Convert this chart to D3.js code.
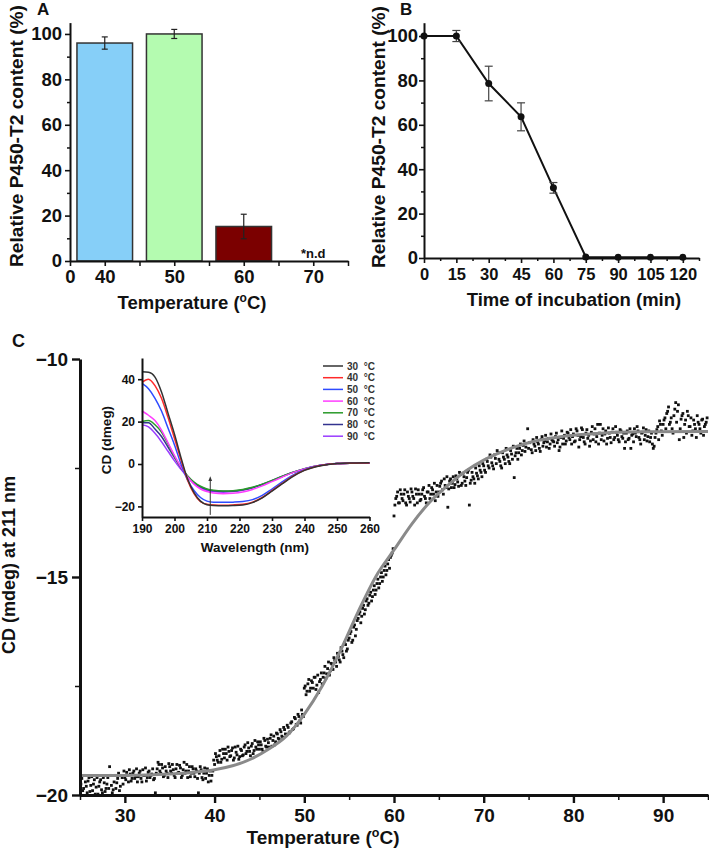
<!DOCTYPE html>
<html><head><meta charset="utf-8">
<script src="https://cdn.jsdelivr.net/npm/d3@7"></script>
<style>
body{margin:0;background:#fff;}
svg{display:block;}
</style></head><body>
<svg id="chart" width="709" height="850"></svg>
<script>
// ---------- Panel A data ----------
const tempCats = ["40","50","60","70"];
const contentA = [96, 100, 15.2, null];
const errA = [2.7, 2.0, 5.4, null];
const colorsA = ["#86cff8","#b4fbb0","#7b0000", null];
// ---------- Panel B data ----------
const timeB = [0,15,30,45,60,75,90,105,120];
const contentB = [100,100,78.6,63.6,31.6,0.5,0.3,0.3,0.3];
const errB = [0,2.5,7.8,6.3,2.4,0,0,0,0];
// ---------- Panel C inset data (CD spectra) ----------
const wavelengths = [190,192,194,196,198,200,202,204,206,208,210,212,215,218,221,224,227,230,233,236,240,245,250,255,260];
const spec30 = [43.5,43.3,41,34,24,14,3,-7,-13.5,-17.5,-19.2,-19.6,-19.7,-19.6,-19.3,-18.2,-16,-12.8,-9.5,-6.3,-3,-0.8,0.2,0.5,0.6];
const spec40 = [38.5,40,37,31,22,12,2,-7.5,-14,-17.8,-19,-19.3,-19.4,-19.3,-19,-18,-15.8,-12.6,-9.3,-6.1,-2.9,-0.7,0.2,0.4,0.5];
const spec50 = [38,35.5,31,25,17,9,0,-7.5,-12.5,-15.8,-17.5,-18,-18.1,-18,-17.7,-16.8,-14.8,-11.8,-8.6,-5.6,-2.7,-0.6,0.2,0.4,0.5];
const spec60 = [25,23,20.5,16,10,4,-1.5,-6,-9.5,-11.8,-13,-13.7,-14,-13.8,-13.2,-12,-10.3,-8.3,-6.3,-4.3,-2.3,-0.6,0.2,0.4,0.5];
const spec70 = [20,20.5,18.5,15,9.5,3.5,-1.5,-5.5,-8.5,-10.5,-11.8,-12.4,-12.7,-12.6,-12,-11,-9.5,-7.7,-5.9,-4.1,-2.2,-0.6,0.2,0.4,0.5];
const spec80 = [19.5,19.5,16.5,13,8,3,-1.8,-5.8,-8.8,-10.8,-12,-12.6,-12.9,-12.8,-12.2,-11.2,-9.7,-7.9,-6,-4.2,-2.3,-0.6,0.2,0.4,0.5];
const spec90 = [18.5,17.5,14.5,10.5,6,1.5,-2.5,-6.3,-9.3,-11.3,-12.5,-13,-13.3,-13,-12.4,-11.2,-9.6,-7.8,-5.9,-4.1,-2.2,-0.6,0.2,0.4,0.5];
const specLabels = ["30  °C","40  °C","50  °C","60  °C","70  °C","80  °C","90  °C"];
const specColors = ["#333333","#ff2a2a","#2e4bff","#ff3dff","#2a9a2a","#33338f","#9a3cff"];
// ---------- Panel C melting data (two interleaved scans) ----------
const meltData = [
[25.2,-19.62],[25.4,-19.85],[25.6,-19.7],[25.8,-19.95],[26.0,-19.6],[26.2,-19.78],[26.4,-19.9],[26.6,-19.65],[26.8,-19.82],[27.0,-19.98],[27.2,-19.7],[27.4,-19.88],[27.6,-19.6],[27.8,-19.92],[28.0,-19.75],[28.2,-19.85],[28.3,-19.35],[28.4,-19.55],[28.6,-19.95],[28.8,-19.7],[29.0,-19.85],[29.2,-19.62],[29.4,-19.9],[29.6,-19.55],[29.8,-19.75],
[30.0,-19.6],[30.2,-19.48],[30.4,-19.7],[30.6,-19.52],[30.8,-19.62],[31.0,-19.45],[31.2,-19.58],[31.4,-19.7],[31.6,-19.5],[31.8,-19.62],[32.0,-19.42],[32.2,-19.55],[32.4,-19.68],[32.6,-19.48],[32.8,-19.6],[33.0,-19.52],[33.2,-19.65],[33.4,-19.95],[33.6,-19.4],[33.8,-19.3],[34.0,-19.5],[34.2,-19.38],[34.4,-19.55],[34.6,-19.45],[34.8,-19.6],
[35.0,-19.35],[35.2,-19.5],[35.4,-19.42],[35.6,-19.6],[35.8,-19.3],[36.0,-19.48],[36.2,-19.38],[36.4,-19.55],[36.6,-19.25],[36.8,-19.45],[37.0,-19.6],[37.2,-19.35],[37.4,-19.5],[37.6,-19.4],[37.8,-19.58],[38.0,-19.45],[38.2,-19.95],[38.4,-19.35],[38.6,-19.6],[38.8,-19.5],[39.0,-19.62],[39.2,-19.4],[39.4,-19.55],[39.6,-19.68],[39.8,-19.45],
[40.0,-19.3],[40.2,-19.12],[40.4,-19.25],[40.6,-18.98],[40.8,-19.18],[41.0,-19.05],[41.2,-18.95],[41.4,-19.2],[41.6,-19.0],[41.8,-19.1],[42.0,-18.92],[42.2,-19.15],[42.4,-19.02],[42.6,-18.88],[42.8,-19.12],[43.0,-18.98],[43.2,-19.08],[43.4,-18.85],[43.6,-19.0],[43.8,-18.92],[44.0,-19.1],[44.2,-18.82],[44.4,-18.98],[44.6,-18.9],[44.8,-18.78],
[45.0,-18.95],[45.2,-18.85],[45.4,-19.0],[45.6,-18.75],[45.8,-18.9],[46.0,-18.8],[46.2,-18.7],[46.4,-18.88],[46.6,-18.65],[46.8,-18.78],[47.0,-18.6],[47.2,-18.72],[47.4,-18.55],[47.6,-18.68],[47.8,-18.5],
[48.0,-18.62],[48.2,-18.45],[48.4,-18.55],[48.6,-18.32],[48.8,-18.48],[49.0,-18.25],[49.2,-18.4],[49.4,-18.2],[49.6,-18.35],[49.8,-18.15],
[50.0,-17.55],[50.2,-17.7],[50.4,-17.45],[50.6,-17.62],[50.8,-17.38],[51.0,-17.55],[51.2,-17.3],[51.4,-17.48],[51.6,-17.65],[51.8,-17.35],
[52.0,-17.45],[52.2,-17.2],[52.4,-17.32],[52.6,-17.1],[52.8,-17.25],[53.0,-16.98],[53.2,-17.12],[53.4,-16.9],[53.6,-17.05],[53.8,-16.82],[54.0,-16.95],[54.2,-16.7],[54.4,-16.85],[54.6,-16.55],[54.8,-16.65],
[55.0,-16.4],[55.2,-16.25],[55.4,-16.45],[55.6,-16.1],[55.8,-16.2],[56.0,-15.95],[56.2,-15.8],[56.4,-15.9],[56.6,-15.65],[56.8,-15.75],
[57.0,-15.5],[57.2,-15.6],[57.4,-15.35],[57.6,-15.45],[57.8,-15.2],[58.0,-15.3],[58.2,-15.05],[58.4,-15.15],[58.6,-14.9],[58.8,-15.0],[59.0,-14.75],[59.2,-14.85],[59.4,-14.6],[59.6,-14.55],[59.8,-14.45],
[60.0,-13.6],[60.2,-13.2],[60.4,-13.05],[60.6,-13.3],[60.8,-13.1],[61.0,-13.25],[61.2,-13.0],[61.4,-13.35],[61.6,-13.15],[61.8,-13.28],[62.0,-13.05],[62.2,-13.2],[62.4,-12.98],[62.6,-13.3],[62.8,-13.1],[63.0,-13.22],[63.2,-13.0],[63.4,-13.15],[63.6,-13.3],[63.8,-13.05],[64.0,-13.2],[64.2,-12.95],[64.4,-13.1],[64.6,-13.25],[64.8,-12.9],
[65.0,-13.05],[65.2,-12.85],[65.4,-13.0],[65.6,-12.75],[65.8,-12.95],[66.0,-13.4],[66.2,-12.8],[66.4,-12.95],[66.6,-12.7],[66.8,-12.88],[67.0,-12.75],[67.2,-12.92],[67.4,-12.65],[67.6,-12.85],[67.8,-12.7],[68.0,-12.9],[68.2,-12.6],[68.4,-13.35],[68.6,-12.78],[68.8,-12.7],[69.0,-12.85],[69.2,-12.62],[69.4,-12.75],[69.6,-12.55],[69.8,-12.7],
[70.0,-12.45],[70.2,-12.6],[70.4,-12.35],[70.6,-12.5],[70.8,-12.25],[71.0,-12.45],[71.2,-12.2],[71.4,-12.4],[71.6,-12.15],[71.8,-12.35],[72.0,-12.5],[72.2,-12.25],[72.4,-12.4],[72.6,-12.2],[72.8,-12.35],[73.0,-12.1],[73.2,-12.3],[73.4,-12.72],[73.6,-12.15],[73.8,-12.3],
[74.0,-12.05],[74.2,-12.2],[74.4,-11.98],[74.6,-12.12],[74.9,-11.6],[75.0,-12.05],[75.4,-12.15],[75.6,-11.95],[75.8,-12.1],[76.0,-11.9],[76.2,-12.05],[76.4,-11.85],[76.6,-12.0],[76.8,-11.88],[77.0,-12.02],[77.2,-11.82],[77.4,-11.95],[77.6,-11.85],[77.8,-11.9],[78.0,-11.78],[78.2,-11.92],[78.4,-12.1],[78.6,-11.8],[78.8,-11.95],[79.0,-11.75],[79.2,-11.88],[79.4,-11.7],[79.6,-11.85],[79.8,-11.95],
[80.0,-11.72],[80.2,-11.88],[80.4,-11.65],[80.6,-12.02],[80.8,-11.78],[81.0,-11.62],[81.2,-11.9],[81.4,-11.7],[81.6,-11.82],[81.8,-12.0],[82.0,-11.68],[82.2,-11.85],[82.4,-11.6],[82.6,-11.78],[82.8,-11.95],[83.0,-11.5],[83.2,-11.75],[83.4,-11.88],[83.6,-11.65],[83.8,-11.82],[84.0,-11.7],[84.2,-11.92],[84.4,-11.6],[84.6,-11.8],[84.8,-11.68],[85.0,-11.85],[85.2,-11.62],[85.4,-11.78],[85.6,-11.7],[85.8,-11.9],
[86.0,-11.65],[86.2,-11.82],[86.4,-12.05],[86.6,-11.72],[86.8,-11.6],[87.0,-11.78],[87.2,-11.65],[87.4,-11.85],[87.6,-11.7],[87.8,-11.58],[88.0,-11.75],[88.2,-11.88],[88.4,-11.65],[88.6,-11.8],[88.8,-11.95],[89.0,-12.0],[89.2,-11.7],[89.4,-11.55],[89.6,-11.42],[89.8,-11.65],[90.0,-11.5],[90.2,-11.35],[90.4,-11.25],[90.6,-11.1],[90.8,-11.45],[91.0,-11.6],[91.2,-11.3],[91.4,-11.0],[91.6,-11.2],[91.8,-11.85],[92.0,-11.38],[92.2,-11.25],[92.4,-11.5],[92.6,-11.7],[92.8,-11.3],[93.0,-11.55],[93.2,-11.75],[93.4,-11.4],[93.6,-11.6],[93.8,-11.3],[94.0,-11.5],[94.2,-11.7],[94.4,-11.38],[94.6,-11.55],[94.8,-11.45]
];
const meltData2 = [
[25.1,-19.75],[25.3,-19.9],[25.5,-19.55],[25.7,-19.8],[25.9,-19.68],[26.1,-19.92],[26.3,-19.58],[26.5,-19.75],[26.7,-19.98],[26.9,-19.6],[27.1,-19.8],[27.3,-19.65],[27.5,-19.95],[27.7,-19.72],[27.9,-19.85],[28.1,-19.6],[28.5,-19.78],[28.7,-19.88],[28.9,-19.55],[29.1,-19.72],[29.3,-19.5],[29.5,-19.8],[29.7,-19.6],[29.9,-19.45],
[30.1,-19.65],[30.3,-19.55],[30.5,-19.42],[30.7,-19.68],[30.9,-19.5],[31.1,-19.62],[31.3,-19.4],[31.5,-19.58],[31.7,-19.45],[31.9,-19.7],[32.1,-19.55],[32.3,-19.38],[32.5,-19.6],[32.7,-19.45],[32.9,-19.55],[33.1,-19.4],[33.3,-19.62],[33.5,-19.5],[33.7,-19.25],[33.9,-19.45],[34.1,-19.3],[34.3,-19.58],[34.5,-19.35],[34.7,-19.5],[34.9,-19.28],
[35.1,-19.45],[35.3,-19.3],[35.5,-19.55],[35.7,-19.4],[35.9,-19.5],[36.1,-19.32],[36.3,-19.6],[36.5,-19.42],[36.7,-19.5],[36.9,-19.3],[37.1,-19.45],[37.3,-19.58],[37.5,-19.35],[37.7,-19.5],[37.9,-19.4],[38.1,-19.62],[38.3,-19.5],[38.5,-19.42],[38.7,-19.65],[38.9,-19.38],[39.1,-19.5],[39.3,-19.7],[39.5,-19.45],[39.7,-19.55],[39.9,-19.2],
[40.1,-19.05],[40.3,-19.2],[40.5,-19.1],[40.7,-19.25],[40.9,-18.95],[41.1,-19.15],[41.3,-19.05],[41.5,-18.9],[41.7,-19.12],[41.9,-18.98],[42.1,-19.2],[42.3,-18.9],[42.5,-19.08],[42.7,-19.18],[42.9,-18.95],[43.1,-19.1],[43.3,-18.9],[43.5,-19.05],[43.7,-18.8],[43.9,-19.0],[44.1,-18.88],[44.3,-19.05],[44.5,-18.75],[44.7,-18.95],[44.9,-18.85],
[45.1,-18.78],[45.3,-18.95],[45.5,-18.7],[45.7,-18.88],[45.9,-18.72],[46.1,-18.9],[46.3,-18.62],[46.5,-18.75],[46.7,-18.85],[46.9,-18.58],[47.1,-18.7],[47.3,-18.5],[47.5,-18.65],[47.7,-18.45],[47.9,-18.6],
[48.1,-18.4],[48.3,-18.58],[48.5,-18.35],[48.7,-18.5],[48.9,-18.22],[49.1,-18.38],[49.3,-18.15],[49.5,-18.3],[49.7,-18.05],[49.9,-18.2],
[50.1,-17.5],[50.3,-17.62],[50.5,-17.35],[50.7,-17.55],[50.9,-17.42],[51.1,-17.3],[51.3,-17.58],[51.5,-17.25],[51.7,-17.4],[51.9,-17.2],
[52.1,-17.3],[52.3,-17.05],[52.5,-17.22],[52.7,-16.95],[52.9,-17.15],[53.1,-17.0],[53.3,-16.85],[53.5,-16.95],[53.7,-16.75],[53.9,-16.9],[54.1,-16.62],[54.3,-16.78],[54.5,-16.5],[54.7,-16.7],[54.9,-16.45],
[55.1,-16.3],[55.3,-16.5],[55.5,-16.15],[55.7,-16.35],[55.9,-16.0],[56.1,-15.85],[56.3,-16.05],[56.5,-15.72],[56.7,-15.85],[56.9,-15.55],
[57.1,-15.65],[57.3,-15.42],[57.5,-15.55],[57.7,-15.3],[57.9,-15.4],[58.1,-15.15],[58.3,-15.25],[58.5,-15.0],[58.7,-15.1],[58.9,-14.85],[59.1,-14.95],[59.3,-14.7],[59.5,-14.8],[59.7,-14.5],[59.9,-14.35],
[60.1,-13.35],[60.3,-13.15],[60.5,-13.3],[60.7,-13.0],[60.9,-13.2],[61.1,-13.1],[61.3,-13.3],[61.5,-13.05],[61.7,-13.2],[61.9,-12.98],[62.1,-13.15],[62.3,-13.35],[62.5,-13.1],[62.7,-13.0],[62.9,-13.25],[63.1,-13.1],[63.3,-12.95],[63.5,-13.2],[63.7,-13.05],[63.9,-12.9],[64.1,-13.1],[64.3,-13.0],[64.5,-12.85],[64.7,-13.05],[64.9,-13.15],
[65.1,-12.92],[65.3,-12.8],[65.5,-13.1],[65.7,-12.9],[65.9,-12.7],[66.1,-12.98],[66.3,-12.75],[66.5,-12.85],[66.7,-12.95],[66.9,-12.68],[67.1,-12.82],[67.3,-12.6],[67.5,-12.9],[67.7,-12.62],[67.9,-12.8],[68.1,-12.72],[68.3,-12.55],[68.5,-12.85],[68.7,-12.6],[68.9,-12.75],[69.1,-12.5],[69.3,-12.68],[69.5,-12.45],[69.7,-12.6],[69.9,-12.4],
[70.1,-12.55],[70.3,-12.3],[70.5,-12.45],[70.7,-12.2],[70.9,-12.38],[71.1,-12.52],[71.3,-12.28],[71.5,-12.1],[71.7,-12.3],[71.9,-12.45],[72.1,-12.15],[72.3,-12.3],[72.5,-12.05],[72.7,-12.25],[72.9,-12.4],[73.1,-12.18],[73.3,-12.0],[73.5,-12.22],[73.7,-12.05],[73.9,-12.15],
[74.1,-11.95],[74.3,-12.1],[74.5,-11.88],[74.7,-12.02],[75.1,-11.92],[75.3,-12.08],[75.5,-11.85],[75.7,-12.0],[75.9,-11.8],[76.1,-11.95],[76.3,-12.12],[76.5,-11.78],[76.7,-11.92],[76.9,-11.75],[77.1,-11.9],[77.3,-12.05],[77.5,-11.72],[77.7,-11.88],[77.9,-12.0],[78.1,-11.7],[78.3,-11.85],[78.5,-12.02],[78.7,-11.65],[78.9,-11.82],[79.1,-11.95],[79.3,-11.68],[79.5,-11.8],[79.7,-11.62],[79.9,-11.78],
[80.1,-11.9],[80.3,-11.6],[80.5,-11.75],[80.7,-11.85],[80.9,-11.58],[81.1,-11.8],[81.3,-11.95],[81.5,-11.62],[81.7,-11.75],[81.9,-11.88],[82.1,-11.55],[82.3,-11.72],[82.5,-11.9],[82.7,-11.5],[82.9,-11.7],[83.1,-11.85],[83.3,-11.6],[83.5,-11.72],[83.7,-11.95],[83.9,-11.58],[84.1,-11.8],[84.3,-11.68],[84.5,-11.85],[84.7,-11.55],[84.9,-11.75],[85.1,-11.9],[85.3,-11.65],[85.5,-11.82],[85.7,-12.05],[85.9,-11.7],
[86.1,-11.85],[86.3,-11.6],[86.5,-11.75],[86.7,-11.9],[86.9,-11.7],[87.1,-11.55],[87.3,-11.8],[87.5,-11.95],[87.7,-11.68],[87.9,-11.85],[88.1,-11.62],[88.3,-11.78],[88.5,-11.9],[88.7,-11.7],[88.9,-12.05],[89.1,-11.8],[89.3,-11.62],[89.5,-11.85],[89.7,-11.5],[89.9,-11.75],[90.1,-11.4],[90.3,-11.6],[90.5,-11.2],[90.7,-11.5],[90.9,-11.35],[91.1,-11.7],[91.3,-11.15],[91.5,-11.45],[91.7,-11.05],[91.9,-11.6],[92.1,-11.3],[92.3,-11.8],[92.5,-11.4],[92.7,-11.2],[92.9,-11.55],[93.1,-11.35],[93.3,-11.65],[93.5,-11.5],[93.7,-11.8],[93.9,-11.45],[94.1,-11.6],[94.3,-11.4],[94.5,-11.75],[94.7,-11.5],[94.9,-11.35]
];
const fitTemp = [25,30,35,38,40,42,44,46,48,50,52,54,56,58,60,62,64,66,68,70,72,74,76,78,80,84,88,95];
const fitCD = [-19.55,-19.55,-19.52,-19.47,-19.42,-19.33,-19.18,-18.95,-18.65,-18.15,-17.5,-16.7,-15.8,-14.98,-14.38,-13.78,-13.28,-12.9,-12.57,-12.32,-12.13,-11.98,-11.87,-11.8,-11.75,-11.69,-11.67,-11.66];

// ---------- drawing ----------
const FONT = '"Liberation Sans", Arial, Helvetica, sans-serif';
const svg = d3.select("#chart").attr("font-family", FONT).attr("font-weight","bold");
svg.append("rect").attr("width",709).attr("height",850).attr("fill","#fff");

function styleAxis(g, fs, sw) {
  g.attr("font-family", FONT).attr("font-size", fs).attr("font-weight","bold");
  g.select(".domain").attr("stroke","#111").attr("stroke-width",sw);
  g.selectAll(".tick line").attr("stroke","#111").attr("stroke-width",sw*0.8);
  g.selectAll(".tick text").attr("fill","#111");
  return g;
}
function minorAxis(parent, axis) {
  const g = parent.append("g").call(axis);
  g.select(".domain").remove();
  g.selectAll(".tick text").remove();
  g.selectAll(".tick line").attr("stroke","#111").attr("stroke-width",1.5);
  return g;
}
function label(x, y, fs, rot, anchor) {
  const t = svg.append("text").attr("font-size",fs).attr("fill","#111")
    .attr("text-anchor", anchor || "middle");
  if (rot) t.attr("transform",`translate(${x},${y}) rotate(${rot})`);
  else t.attr("x",x).attr("y",y);
  return t;
}

// ===== Panel A =====
const xA = d3.scaleLinear().domain([0,4]).range([70,348]);
const yA = d3.scaleLinear().domain([0,105]).range([261,22.6]);
const gA = svg.append("g");
const barW = xA(0.8) - xA(0);
gA.selectAll("rect.bar").data(tempCats.map((c,i)=>({c,i,v:contentA[i],e:errA[i],col:colorsA[i]})).filter(d=>d.v!=null))
  .join("rect").attr("class","bar")
  .attr("x",d=>xA(d.i+0.5)-barW/2).attr("width",barW)
  .attr("y",d=>yA(d.v)).attr("height",d=>yA(0)-yA(d.v))
  .attr("fill",d=>d.col).attr("stroke","#333").attr("stroke-width",1.5);
const errAData = tempCats.map((c,i)=>({i,v:contentA[i],e:errA[i]})).filter(d=>d.v!=null);
gA.selectAll("line.ev").data(errAData).join("line")
  .attr("x1",d=>xA(d.i+0.5)).attr("x2",d=>xA(d.i+0.5))
  .attr("y1",d=>yA(d.v+d.e)).attr("y2",d=>yA(d.v-d.e)).attr("stroke","#222").attr("stroke-width",1.2);
[1,-1].forEach(s=>{
  gA.selectAll("line.ec"+s).data(errAData).join("line")
    .attr("x1",d=>xA(d.i+0.5)-3).attr("x2",d=>xA(d.i+0.5)+3)
    .attr("y1",d=>yA(d.v+s*d.e)).attr("y2",d=>yA(d.v+s*d.e)).attr("stroke","#222").attr("stroke-width",1.2);
});
gA.append("text").attr("x",xA(3.5)).attr("y",yA(0)-3).attr("text-anchor","middle")
  .attr("font-size",13).attr("fill","#111").text("*n.d");
const axAy = gA.append("g").attr("transform",`translate(${xA(0)},0)`)
  .call(d3.axisLeft(yA).tickValues([0,20,40,60,80,100]).tickSize(5).tickSizeOuter(0).tickPadding(3));
styleAxis(axAy,18.5,2);
minorAxis(gA.append("g").attr("transform",`translate(${xA(0)},0)`), d3.axisLeft(yA).tickValues([10,30,50,70,90]).tickSize(3));
const axAx = gA.append("g").attr("transform",`translate(0,${yA(0)})`)
  .call(d3.axisBottom(xA).tickValues([0,0.5,1.5,2.5,3.5]).tickSize(5).tickSizeOuter(0).tickPadding(4)
    .tickFormat(d=> d===0 ? "0" : tempCats[Math.floor(d)]));
styleAxis(axAx,18.5,2);
minorAxis(gA.append("g").attr("transform",`translate(0,${yA(0)})`), d3.axisBottom(xA).tickValues([1,2,3,4]).tickSize(5));
label(23,136,18.5,-90).text("Relative P450-T2 content (%)").attr("textLength",262).attr("lengthAdjust","spacingAndGlyphs");
{
  const t = label(192,309,18.5);
  t.append("tspan").text("Temperature (");
  t.append("tspan").attr("font-size",12).attr("dy",-7).text("o");
  t.append("tspan").attr("dy",7).text("C)");
}
label(37,15,17,0,"start").text("A");

// ===== Panel B =====
const xB = d3.scaleLinear().domain([0,127.5]).range([424,699]);
const yB = d3.scaleLinear().domain([0,106]).range([258,22.7]);
const gB = svg.append("g");
const axBy = gB.append("g").attr("transform",`translate(${xB(0)},0)`)
  .call(d3.axisLeft(yB).tickValues([0,20,40,60,80,100]).tickSize(5).tickSizeOuter(0).tickPadding(1));
styleAxis(axBy,18.5,2);
minorAxis(gB.append("g").attr("transform",`translate(${xB(0)},0)`), d3.axisLeft(yB).tickValues([10,30,50,70,90]).tickSize(3));
const axBx = gB.append("g").attr("transform",`translate(0,${yB(0)})`)
  .call(d3.axisBottom(xB).tickValues(d3.range(0,121,15)).tickSize(5).tickSizeOuter(0).tickPadding(5));
styleAxis(axBx,16.5,2);
minorAxis(gB.append("g").attr("transform",`translate(0,${yB(0)})`), d3.axisBottom(xB).tickValues(d3.range(7.5,128,15)).tickSize(3));
const ptsB = timeB.map((t,i)=>({t,v:contentB[i],e:errB[i]}));
gB.append("path").datum(ptsB).attr("fill","none").attr("stroke","#111").attr("stroke-width",2)
  .attr("d",d3.line().x(d=>xB(d.t)).y(d=>yB(d.v)));
const ebB = ptsB.filter(d=>d.e>0);
gB.selectAll("line.ev").data(ebB).join("line")
  .attr("x1",d=>xB(d.t)).attr("x2",d=>xB(d.t)).attr("y1",d=>yB(d.v+d.e)).attr("y2",d=>yB(d.v-d.e))
  .attr("stroke","#444").attr("stroke-width",1.2);
[1,-1].forEach(s=>{
  gB.selectAll("line.ec"+s).data(ebB).join("line")
    .attr("x1",d=>xB(d.t)-4).attr("x2",d=>xB(d.t)+4).attr("y1",d=>yB(d.v+s*d.e)).attr("y2",d=>yB(d.v+s*d.e))
    .attr("stroke","#444").attr("stroke-width",1.2);
});
gB.selectAll("circle").data(ptsB).join("circle").attr("cx",d=>xB(d.t)).attr("cy",d=>yB(d.v))
  .attr("r",3.5).attr("fill","#111");
label(385,137,18.5,-90).text("Relative P450-T2 content (%)").attr("textLength",262).attr("lengthAdjust","spacingAndGlyphs");
label(574,306,18.5).text("Time of incubation (min)");
label(400,15,17,0,"start").text("B");

// ===== Panel C =====
const xC = d3.scaleLinear().domain([25,95]).range([80,708]);
const yC = d3.scaleLinear().domain([-20,-10]).range([795,359]);
const gC = svg.append("g");
gC.selectAll("rect.pt").data(meltData.concat(meltData2)).join("rect").attr("class","pt")
  .attr("x",d=>xC(d[0])-1.4).attr("y",d=>yC(d[1])-1.4).attr("width",2.8).attr("height",2.8).attr("fill","#111");
gC.append("path").datum(fitTemp.map((t,i)=>[t,fitCD[i]])).attr("fill","none")
  .attr("stroke","#8a8a8a").attr("stroke-width",3)
  .attr("d",d3.line().x(d=>xC(d[0])).y(d=>yC(d[1])).curve(d3.curveMonotoneX));
const axCy = gC.append("g").attr("transform",`translate(${xC(25)},0)`)
  .call(d3.axisLeft(yC).tickValues([-20,-15,-10]).tickSize(8).tickSizeOuter(0).tickPadding(4)
    .tickFormat(d=>"\u2212"+Math.abs(d)));
styleAxis(axCy,19,3);
minorAxis(gC.append("g").attr("transform",`translate(${xC(25)},0)`), d3.axisLeft(yC).tickValues([-17.5,-12.5]).tickSize(5));
const axCx = gC.append("g").attr("transform",`translate(0,${yC(-20)})`)
  .call(d3.axisBottom(xC).tickValues([30,40,50,60,70,80,90]).tickSize(8).tickSizeOuter(0).tickPadding(6));
styleAxis(axCx,19,3);
minorAxis(gC.append("g").attr("transform",`translate(0,${yC(-20)})`), d3.axisBottom(xC).tickValues([25,35,45,55,65,75,85,95]).tickSize(5));
label(15,565,18,-90).text("CD (mdeg) at 211 nm");
{
  const t = label(323,844,19);
  t.append("tspan").text("Temperature (");
  t.append("tspan").attr("font-size",12.5).attr("dy",-7.5).text("o");
  t.append("tspan").attr("dy",7.5).text("C)");
}
label(12,347,18,0,"start").text("C");

// ===== Inset =====
const xI = d3.scaleLinear().domain([190,260]).range([142,369.5]);
const yI = d3.scaleLinear().domain([-25,50]).range([517,358]);
const gI = svg.append("g");
const specs = [spec30,spec40,spec50,spec60,spec70,spec80,spec90];
const lineI = d3.line().x((d,i)=>xI(wavelengths[i])).y(d=>yI(d)).curve(d3.curveMonotoneX);
specs.slice().reverse().forEach((s,k)=>{
  const idx = specs.length-1-k;
  gI.append("path").datum(s).attr("fill","none").attr("stroke",specColors[idx]).attr("stroke-width",1.5).attr("d",lineI);
});
gI.append("defs").append("marker").attr("id","arr").attr("viewBox","0 0 10 10").attr("refX",5).attr("refY",5)
  .attr("markerWidth",5).attr("markerHeight",7).attr("orient","auto")
  .append("path").attr("d","M0,1 L10,5 L0,9 Z").attr("fill","#333");
gI.append("line").attr("x1",xI(211)).attr("x2",xI(211)).attr("y1",yI(-24)).attr("y2",yI(-7))
  .attr("stroke","#333").attr("stroke-width",1).attr("marker-end","url(#arr)");
const axIy = gI.append("g").attr("transform",`translate(${xI(190)},0)`)
  .call(d3.axisLeft(yI).tickValues([-20,0,20,40]).tickSize(4).tickSizeOuter(0).tickPadding(3)
    .tickFormat(d=> d<0 ? "\u2212"+Math.abs(d) : d));
styleAxis(axIy,12,2);
const axIx = gI.append("g").attr("transform",`translate(0,${yI(-25)})`)
  .call(d3.axisBottom(xI).tickValues(d3.range(190,261,10)).tickSize(4).tickSizeOuter(0).tickPadding(3));
styleAxis(axIx,12,2);
label(111,440,13.5,-90).text("CD (dmeg)");
label(255,552,13.5).text("Wavelength (nm)");
const leg = gI.append("g");
specLabels.forEach((l,i)=>{
  const y = 366 + i*11.7;
  leg.append("line").attr("x1",323).attr("x2",343).attr("y1",y).attr("y2",y).attr("stroke",specColors[i]).attr("stroke-width",1.5);
  leg.append("text").attr("x",347).attr("y",y+3.5).attr("font-size",10).attr("fill","#333").style("white-space","pre").text(l);
});
</script>
</body></html>
